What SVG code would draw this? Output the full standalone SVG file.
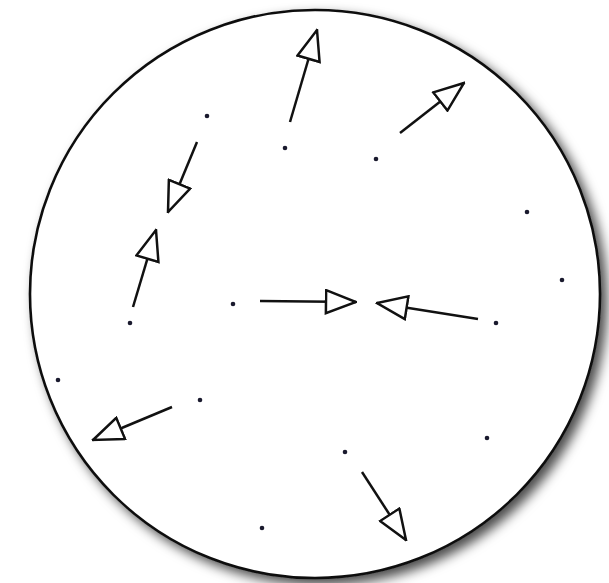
<svg xmlns="http://www.w3.org/2000/svg" width="609" height="583" viewBox="0 0 609 583">
  <style>
    .dot { fill: #1a1a2e; }
    .arrow { stroke: #111; stroke-width: 2.5; fill: none; marker-end: url(#openHead); }
  </style>
  <defs>
    <filter id="shadow" x="-10%" y="-10%" width="125%" height="125%">
      <feDropShadow dx="6" dy="6" stdDeviation="6" flood-color="#000" flood-opacity="0.7"/>
    </filter>
    <marker id="openHead" viewBox="0 0 33 26" refX="31.5" refY="13" markerWidth="33" markerHeight="26" markerUnits="userSpaceOnUse" orient="auto">
      <path d="M1.5,1.5 L31.5,13 L1.5,24.5 Z" fill="#fff" stroke="#111" stroke-width="2.5" stroke-linejoin="miter"/>
    </marker>
  </defs>
  <rect width="609" height="583" fill="#fff"/>
  <g id="boundary">
    <ellipse cx="315" cy="294" rx="285" ry="284" fill="#fff" stroke="#111" stroke-width="2.6" filter="url(#shadow)"/>
  </g>
  <g id="connectors">
    <line class="arrow" x1="290" y1="122" x2="317" y2="30"/>
    <line class="arrow" x1="400" y1="133" x2="464" y2="83"/>
    <line class="arrow" x1="197" y1="142" x2="168" y2="212"/>
    <line class="arrow" x1="133" y1="307" x2="156" y2="230"/>
    <line class="arrow" x1="260" y1="301" x2="356" y2="302"/>
    <line class="arrow" x1="478" y1="319" x2="377" y2="303"/>
    <line class="arrow" x1="172" y1="407" x2="93" y2="440"/>
    <line class="arrow" x1="362" y1="472" x2="406" y2="540"/>
  </g>
  <g id="p1"><circle class="dot" cx="207" cy="116" r="2.3"/></g>
  <g id="p2"><circle class="dot" cx="285" cy="148" r="2.3"/></g>
  <g id="p3"><circle class="dot" cx="376" cy="159" r="2.3"/></g>
  <g id="p4"><circle class="dot" cx="527" cy="212" r="2.3"/></g>
  <g id="p5"><circle class="dot" cx="562" cy="280" r="2.3"/></g>
  <g id="p6"><circle class="dot" cx="233" cy="304" r="2.3"/></g>
  <g id="p7"><circle class="dot" cx="130" cy="323" r="2.3"/></g>
  <g id="p8"><circle class="dot" cx="496" cy="323" r="2.3"/></g>
  <g id="p9"><circle class="dot" cx="58" cy="380" r="2.3"/></g>
  <g id="p10"><circle class="dot" cx="200" cy="400" r="2.3"/></g>
  <g id="p11"><circle class="dot" cx="487" cy="438" r="2.3"/></g>
  <g id="p12"><circle class="dot" cx="345" cy="452" r="2.3"/></g>
  <g id="p13"><circle class="dot" cx="262" cy="528" r="2.3"/></g>
</svg>
